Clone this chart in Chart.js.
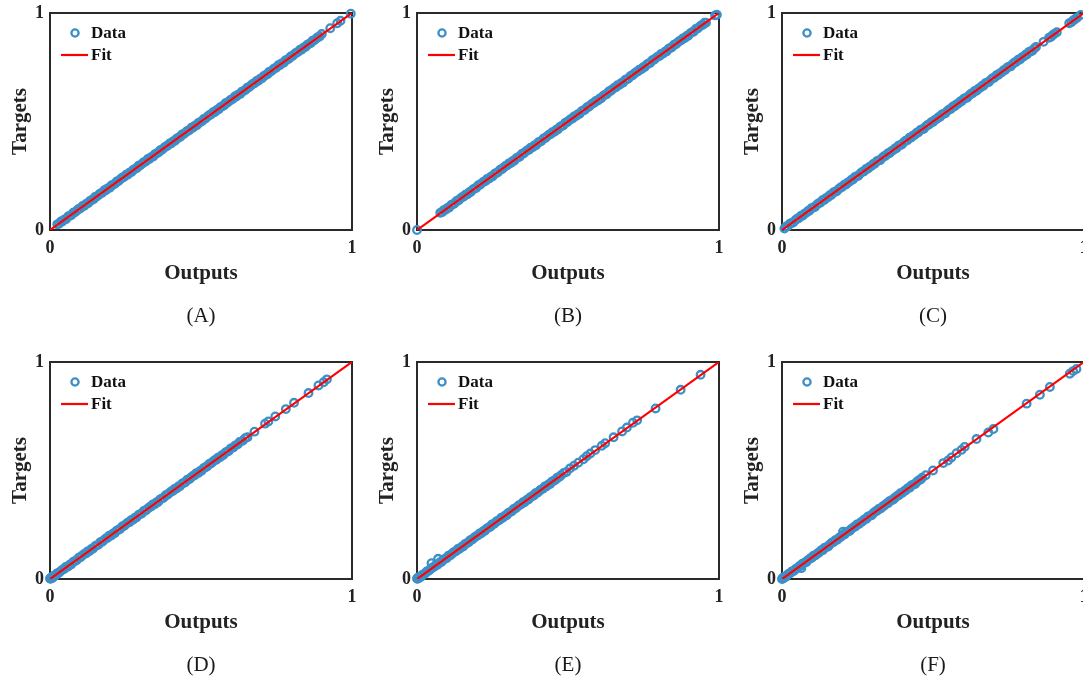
<!DOCTYPE html>
<html>
<head>
<meta charset="utf-8">
<title>Outputs vs Targets</title>
<script src="https://cdn.jsdelivr.net/npm/chart.js@4.4.0/dist/chart.umd.min.js"></script>
<style>
  html, body { margin: 0; padding: 0; background: #ffffff; width: 1083px; height: 680px; overflow: hidden; }
  .panel { position: absolute; width: 360px; height: 340px; }
  .panel canvas { display: block; }
</style>
</head>
<body>
<div class="panel" style="left:0px;top:0px"><canvas id="pA" width="360" height="340"></canvas></div>
<div class="panel" style="left:367px;top:0px"><canvas id="pB" width="360" height="340"></canvas></div>
<div class="panel" style="left:732px;top:0px"><canvas id="pC" width="360" height="340"></canvas></div>
<div class="panel" style="left:0px;top:349px"><canvas id="pD" width="360" height="340"></canvas></div>
<div class="panel" style="left:367px;top:349px"><canvas id="pE" width="360" height="340"></canvas></div>
<div class="panel" style="left:732px;top:349px"><canvas id="pF" width="360" height="340"></canvas></div>

<script>
// Axis ticks shared by every panel
const axisTicks = [0, 1];

// Fitted line (Outputs -> Targets)
const fitOutputs = [0, 1];
const fitTargets = [0, 1];

// Panel (A)
const outputsA = [0.024,0.030,0.036,0.041,0.047,0.053,0.060,0.066,0.071,0.077,
  0.083,0.090,0.095,0.101,0.108,0.113,0.119,0.126,0.131,0.137,
  0.144,0.149,0.155,0.162,0.167,0.173,0.180,0.185,0.191,0.198,
  0.203,0.209,0.216,0.221,0.227,0.234,0.239,0.245,0.252,0.257,
  0.263,0.270,0.275,0.281,0.288,0.293,0.299,0.306,0.311,0.317,
  0.324,0.329,0.335,0.342,0.347,0.353,0.360,0.365,0.371,0.378,
  0.383,0.389,0.396,0.401,0.407,0.414,0.419,0.425,0.432,0.437,
  0.443,0.450,0.455,0.461,0.468,0.473,0.479,0.486,0.491,0.497,
  0.504,0.509,0.515,0.522,0.527,0.533,0.540,0.545,0.551,0.558,
  0.563,0.569,0.576,0.581,0.587,0.594,0.599,0.605,0.612,0.617,
  0.623,0.630,0.635,0.641,0.648,0.653,0.659,0.666,0.671,0.677,
  0.684,0.689,0.695,0.702,0.707,0.713,0.720,0.725,0.731,0.738,
  0.743,0.749,0.756,0.761,0.767,0.774,0.779,0.785,0.792,0.797,
  0.803,0.810,0.815,0.821,0.828,0.833,0.839,0.846,0.851,0.857,
  0.864,0.869,0.875,0.882,0.887,0.893,0.900,0.928,0.951,0.962,
  0.996];
const targetsA = [0.026,0.029,0.039,0.039,0.048,0.050,0.062,0.066,0.069,0.080,
  0.082,0.091,0.097,0.100,0.111,0.111,0.120,0.123,0.133,0.137,
  0.142,0.152,0.154,0.163,0.169,0.172,0.183,0.183,0.192,0.195,
  0.205,0.209,0.214,0.224,0.226,0.235,0.241,0.244,0.255,0.255,
  0.264,0.267,0.277,0.281,0.286,0.296,0.298,0.307,0.313,0.316,
  0.327,0.327,0.336,0.339,0.349,0.353,0.358,0.368,0.370,0.379,
  0.385,0.388,0.399,0.399,0.408,0.411,0.421,0.425,0.430,0.440,
  0.442,0.451,0.457,0.460,0.471,0.471,0.480,0.483,0.493,0.497,
  0.502,0.512,0.514,0.523,0.529,0.532,0.543,0.543,0.552,0.555,
  0.565,0.569,0.574,0.584,0.586,0.595,0.601,0.604,0.615,0.615,
  0.624,0.627,0.637,0.641,0.646,0.656,0.658,0.667,0.673,0.676,
  0.687,0.687,0.696,0.699,0.709,0.713,0.718,0.728,0.730,0.739,
  0.745,0.748,0.759,0.759,0.768,0.771,0.781,0.785,0.790,0.800,
  0.802,0.811,0.817,0.820,0.831,0.831,0.840,0.843,0.853,0.857,
  0.862,0.872,0.874,0.883,0.889,0.892,0.903,0.930,0.953,0.964,
  0.997];

// Panel (B)
const outputsB = [0.000,0.077,0.083,0.088,0.095,0.101,0.106,0.113,0.119,0.124,
  0.131,0.137,0.142,0.149,0.155,0.160,0.167,0.173,0.178,0.185,
  0.191,0.196,0.203,0.209,0.214,0.221,0.227,0.232,0.239,0.245,
  0.250,0.257,0.263,0.268,0.275,0.281,0.286,0.293,0.299,0.304,
  0.311,0.317,0.322,0.329,0.335,0.340,0.347,0.353,0.358,0.365,
  0.371,0.376,0.383,0.389,0.394,0.401,0.407,0.412,0.419,0.425,
  0.430,0.437,0.443,0.448,0.455,0.461,0.466,0.473,0.479,0.484,
  0.491,0.497,0.502,0.509,0.515,0.520,0.527,0.533,0.538,0.545,
  0.551,0.556,0.563,0.569,0.574,0.581,0.587,0.592,0.599,0.605,
  0.610,0.617,0.623,0.628,0.635,0.641,0.646,0.653,0.659,0.664,
  0.671,0.677,0.682,0.689,0.695,0.700,0.707,0.713,0.718,0.725,
  0.731,0.736,0.743,0.749,0.754,0.761,0.767,0.772,0.779,0.785,
  0.790,0.797,0.803,0.808,0.815,0.821,0.826,0.833,0.839,0.844,
  0.851,0.857,0.862,0.869,0.875,0.880,0.887,0.893,0.898,0.905,
  0.911,0.916,0.923,0.929,0.934,0.941,0.947,0.952,0.957,0.987,
  0.993];
const targetsB = [0.000,0.079,0.082,0.091,0.093,0.102,0.103,0.115,0.119,0.122,
  0.134,0.136,0.143,0.151,0.154,0.163,0.165,0.174,0.175,0.187,
  0.191,0.194,0.206,0.208,0.215,0.223,0.226,0.235,0.237,0.246,
  0.247,0.259,0.263,0.266,0.278,0.280,0.287,0.295,0.298,0.307,
  0.309,0.318,0.319,0.331,0.335,0.338,0.350,0.352,0.359,0.367,
  0.370,0.379,0.381,0.390,0.391,0.403,0.407,0.410,0.422,0.424,
  0.431,0.439,0.442,0.451,0.453,0.462,0.463,0.475,0.479,0.482,
  0.494,0.496,0.503,0.511,0.514,0.523,0.525,0.534,0.535,0.547,
  0.551,0.554,0.566,0.568,0.575,0.583,0.586,0.595,0.597,0.606,
  0.607,0.619,0.623,0.626,0.638,0.640,0.647,0.655,0.658,0.667,
  0.669,0.678,0.679,0.691,0.695,0.698,0.710,0.712,0.719,0.727,
  0.730,0.739,0.741,0.750,0.751,0.763,0.767,0.770,0.782,0.784,
  0.791,0.799,0.802,0.811,0.813,0.822,0.823,0.835,0.839,0.842,
  0.854,0.856,0.863,0.871,0.874,0.883,0.885,0.894,0.895,0.907,
  0.911,0.914,0.926,0.928,0.935,0.943,0.946,0.955,0.955,0.989,
  0.992];

// Panel (C)
const outputsC = [0.008,0.014,0.019,0.026,0.032,0.037,0.044,0.050,0.055,0.062,
  0.068,0.073,0.080,0.086,0.091,0.098,0.104,0.109,0.116,0.122,
  0.127,0.134,0.140,0.145,0.152,0.158,0.163,0.170,0.176,0.181,
  0.188,0.194,0.199,0.206,0.212,0.217,0.224,0.230,0.235,0.242,
  0.248,0.253,0.260,0.266,0.271,0.278,0.284,0.289,0.296,0.302,
  0.307,0.314,0.320,0.325,0.332,0.338,0.343,0.350,0.356,0.361,
  0.368,0.374,0.379,0.386,0.392,0.397,0.404,0.410,0.415,0.422,
  0.428,0.433,0.440,0.446,0.451,0.458,0.464,0.469,0.476,0.482,
  0.487,0.494,0.500,0.505,0.512,0.518,0.523,0.530,0.536,0.541,
  0.548,0.554,0.559,0.566,0.572,0.577,0.584,0.590,0.595,0.602,
  0.608,0.613,0.620,0.626,0.631,0.638,0.644,0.649,0.656,0.662,
  0.667,0.674,0.680,0.685,0.692,0.698,0.703,0.710,0.716,0.721,
  0.728,0.734,0.739,0.746,0.752,0.757,0.764,0.770,0.775,0.782,
  0.788,0.793,0.800,0.806,0.811,0.818,0.824,0.829,0.836,0.841,
  0.866,0.884,0.890,0.896,0.902,0.910,0.951,0.958,0.964,0.970,
  0.977,0.989];
const targetsC = [0.007,0.016,0.017,0.029,0.032,0.034,0.045,0.052,0.054,0.065,
  0.066,0.074,0.079,0.088,0.089,0.101,0.104,0.106,0.117,0.124,
  0.126,0.137,0.138,0.146,0.151,0.160,0.161,0.173,0.176,0.178,
  0.189,0.196,0.198,0.209,0.210,0.218,0.223,0.232,0.233,0.245,
  0.248,0.250,0.261,0.268,0.270,0.281,0.282,0.290,0.295,0.304,
  0.305,0.317,0.320,0.322,0.333,0.340,0.342,0.353,0.354,0.362,
  0.367,0.376,0.377,0.389,0.392,0.394,0.405,0.412,0.414,0.425,
  0.426,0.434,0.439,0.448,0.449,0.461,0.464,0.466,0.477,0.484,
  0.486,0.497,0.498,0.506,0.511,0.520,0.521,0.533,0.536,0.538,
  0.549,0.556,0.558,0.569,0.570,0.578,0.583,0.592,0.593,0.605,
  0.608,0.610,0.621,0.628,0.630,0.641,0.642,0.650,0.655,0.664,
  0.665,0.677,0.680,0.682,0.693,0.700,0.702,0.713,0.714,0.722,
  0.727,0.736,0.737,0.749,0.752,0.754,0.765,0.772,0.774,0.785,
  0.786,0.794,0.799,0.808,0.809,0.821,0.824,0.826,0.837,0.843,
  0.867,0.886,0.889,0.898,0.904,0.911,0.953,0.957,0.966,0.971,
  0.978,0.991];

// Panel (D)
const outputsD = [0.000,0.002,0.004,0.006,0.008,0.010,0.013,0.016,0.019,0.023,
  0.029,0.034,0.041,0.047,0.052,0.059,0.065,0.070,0.077,0.083,
  0.088,0.095,0.101,0.106,0.113,0.119,0.124,0.131,0.137,0.142,
  0.149,0.155,0.160,0.167,0.173,0.178,0.185,0.191,0.196,0.203,
  0.209,0.214,0.221,0.227,0.232,0.239,0.245,0.250,0.257,0.263,
  0.268,0.275,0.281,0.286,0.293,0.299,0.304,0.311,0.317,0.322,
  0.329,0.335,0.340,0.347,0.353,0.358,0.365,0.371,0.376,0.383,
  0.389,0.394,0.401,0.407,0.412,0.419,0.425,0.430,0.437,0.443,
  0.448,0.455,0.461,0.466,0.473,0.479,0.484,0.491,0.497,0.502,
  0.509,0.515,0.520,0.527,0.533,0.538,0.545,0.551,0.556,0.563,
  0.569,0.574,0.581,0.587,0.592,0.599,0.607,0.614,0.622,0.628,
  0.638,0.646,0.654,0.677,0.712,0.723,0.746,0.781,0.808,0.856,
  0.889,0.906,0.917];
const targetsD = [0.002,0.001,0.007,0.004,0.009,0.007,0.015,0.016,0.017,0.026,
  0.028,0.035,0.043,0.046,0.055,0.057,0.066,0.067,0.079,0.083,
  0.086,0.098,0.100,0.107,0.115,0.118,0.127,0.129,0.138,0.139,
  0.151,0.155,0.158,0.170,0.172,0.179,0.187,0.190,0.199,0.201,
  0.210,0.211,0.223,0.227,0.230,0.242,0.244,0.251,0.259,0.262,
  0.271,0.273,0.282,0.283,0.295,0.299,0.302,0.314,0.316,0.323,
  0.331,0.334,0.343,0.345,0.354,0.355,0.367,0.371,0.374,0.386,
  0.388,0.395,0.403,0.406,0.415,0.417,0.426,0.427,0.439,0.443,
  0.446,0.458,0.460,0.467,0.475,0.478,0.487,0.489,0.498,0.499,
  0.511,0.515,0.518,0.530,0.532,0.539,0.547,0.550,0.559,0.561,
  0.570,0.571,0.583,0.587,0.590,0.602,0.606,0.616,0.621,0.631,
  0.637,0.649,0.653,0.679,0.716,0.726,0.749,0.783,0.812,0.857,
  0.892,0.907,0.920];

// Panel (E)
const outputsE = [0.000,0.002,0.004,0.007,0.010,0.013,0.017,0.021,0.027,0.032,
  0.039,0.045,0.048,0.050,0.057,0.063,0.068,0.070,0.075,0.081,
  0.086,0.093,0.099,0.104,0.111,0.117,0.122,0.129,0.135,0.140,
  0.147,0.153,0.158,0.165,0.171,0.176,0.183,0.189,0.194,0.201,
  0.207,0.212,0.219,0.225,0.230,0.237,0.243,0.248,0.255,0.261,
  0.266,0.273,0.279,0.284,0.291,0.297,0.302,0.309,0.315,0.320,
  0.327,0.333,0.338,0.345,0.351,0.356,0.363,0.369,0.374,0.381,
  0.387,0.392,0.399,0.405,0.410,0.417,0.423,0.428,0.435,0.441,
  0.446,0.453,0.459,0.464,0.471,0.477,0.486,0.495,0.507,0.520,
  0.534,0.551,0.562,0.574,0.590,0.612,0.623,0.651,0.679,0.695,
  0.715,0.729,0.790,0.873,0.939];
const targetsE = [0.002,0.001,0.007,0.005,0.011,0.010,0.019,0.021,0.025,0.035,
  0.038,0.046,0.073,0.052,0.056,0.066,0.066,0.093,0.076,0.078,
  0.088,0.093,0.097,0.107,0.110,0.118,0.124,0.128,0.138,0.138,
  0.148,0.150,0.160,0.165,0.169,0.179,0.182,0.190,0.196,0.200,
  0.210,0.210,0.220,0.222,0.232,0.237,0.241,0.251,0.254,0.262,
  0.268,0.272,0.282,0.282,0.292,0.294,0.304,0.309,0.313,0.323,
  0.326,0.334,0.340,0.344,0.354,0.354,0.364,0.366,0.376,0.381,
  0.385,0.395,0.398,0.406,0.412,0.416,0.426,0.426,0.436,0.438,
  0.448,0.453,0.457,0.467,0.470,0.478,0.489,0.493,0.510,0.522,
  0.536,0.552,0.566,0.578,0.594,0.614,0.626,0.653,0.680,0.698,
  0.720,0.731,0.786,0.872,0.941];

// Panel (F)
const outputsF = [0.000,0.002,0.004,0.007,0.010,0.013,0.017,0.021,0.027,0.032,
  0.039,0.045,0.050,0.057,0.064,0.063,0.068,0.075,0.081,0.086,
  0.093,0.099,0.104,0.111,0.117,0.122,0.129,0.135,0.140,0.147,
  0.153,0.158,0.165,0.171,0.176,0.183,0.189,0.194,0.201,0.202,
  0.207,0.212,0.219,0.225,0.230,0.237,0.243,0.248,0.255,0.261,
  0.266,0.273,0.279,0.284,0.291,0.297,0.302,0.309,0.315,0.320,
  0.327,0.333,0.338,0.345,0.351,0.356,0.363,0.369,0.374,0.381,
  0.387,0.392,0.399,0.405,0.410,0.417,0.423,0.428,0.435,0.441,
  0.446,0.453,0.459,0.464,0.476,0.500,0.534,0.550,0.561,0.578,
  0.594,0.605,0.644,0.683,0.700,0.810,0.854,0.887,0.953,0.964,
  0.975];
const targetsF = [0.000,0.004,0.002,0.010,0.010,0.010,0.018,0.023,0.026,0.035,
  0.037,0.046,0.049,0.059,0.050,0.061,0.071,0.075,0.078,0.087,
  0.095,0.098,0.107,0.109,0.118,0.121,0.131,0.133,0.143,0.147,
  0.150,0.159,0.167,0.170,0.179,0.181,0.190,0.193,0.203,0.218,
  0.205,0.215,0.219,0.222,0.231,0.239,0.242,0.251,0.253,0.262,
  0.265,0.275,0.277,0.287,0.291,0.294,0.303,0.311,0.314,0.323,
  0.325,0.334,0.337,0.347,0.349,0.359,0.363,0.366,0.375,0.383,
  0.386,0.395,0.397,0.406,0.409,0.419,0.421,0.431,0.435,0.438,
  0.447,0.455,0.458,0.467,0.478,0.500,0.534,0.546,0.560,0.580,
  0.595,0.609,0.645,0.675,0.691,0.808,0.849,0.885,0.946,0.958,
  0.968];

const panelCaptions = ['(A)', '(B)', '(C)', '(D)', '(E)', '(F)'];
const panelIds = ['pA', 'pB', 'pC', 'pD', 'pE', 'pF'];
const panelOutputs = [outputsA, outputsB, outputsC, outputsD, outputsE, outputsF];
const panelTargets = [targetsA, targetsB, targetsC, targetsD, targetsE, targetsF];

const SERIF = '"Liberation Serif", "Times New Roman", Times, serif';
const INK = '#222222';
const DATA_BLUE = '#3d8fc8';
const FIT_RED = '#ff0000';

// Box frame, in-plot legend and caption under each panel
const panelDecor = {
  id: 'panelDecor',
  beforeDatasetsDraw(chart) {
    const {ctx, chartArea: a} = chart;
    ctx.save();
    ctx.strokeStyle = '#2a2a2a';
    ctx.lineWidth = 2;
    ctx.strokeRect(a.left, a.top, a.right - a.left, a.bottom - a.top);
    ctx.restore();
  },
  afterDraw(chart, args, opts) {
    const {ctx, chartArea: a} = chart;
    ctx.save();
    // legend
    ctx.strokeStyle = DATA_BLUE;
    ctx.lineWidth = 2.3;
    ctx.beginPath();
    ctx.arc(a.left + 25, a.top + 20, 3.6, 0, Math.PI * 2);
    ctx.stroke();
    ctx.strokeStyle = FIT_RED;
    ctx.lineWidth = 2.2;
    ctx.beginPath();
    ctx.moveTo(a.left + 11, a.top + 42);
    ctx.lineTo(a.left + 38, a.top + 42);
    ctx.stroke();
    ctx.fillStyle = '#111111';
    ctx.font = 'bold 17px ' + SERIF;
    ctx.textAlign = 'left';
    ctx.textBaseline = 'middle';
    ctx.fillText('Data', a.left + 41, a.top + 21);
    ctx.fillText('Fit', a.left + 41, a.top + 43);
    // caption
    ctx.font = '21px ' + SERIF;
    ctx.textAlign = 'center';
    ctx.fillStyle = '#1a1a1a';
    ctx.fillText(opts.text, (a.left + a.right) / 2, a.bottom + 86);
    ctx.restore();
  }
};

function makePanel(i) {
  const outputs = panelOutputs[i];
  const targets = panelTargets[i];
  const points = outputs.map((x, k) => ({x: x, y: targets[k]}));
  const fit = fitOutputs.map((x, k) => ({x: x, y: fitTargets[k]}));
  const tickFont = {family: SERIF, size: 18, weight: 'bold'};
  const titleFont = {family: SERIF, size: 21, weight: 'bold'};
  return new Chart(document.getElementById(panelIds[i]), {
    type: 'scatter',
    data: {
      datasets: [
        {
          type: 'line',
          label: 'Fit',
          data: fit,
          borderColor: FIT_RED,
          borderWidth: 2.2,
          pointRadius: 0,
          pointHoverRadius: 0,
          showLine: true,
          fill: false,
          order: 0
        },
        {
          type: 'scatter',
          label: 'Data',
          data: points,
          pointStyle: 'circle',
          pointRadius: 3.8,
          pointHoverRadius: 3.8,
          pointBorderWidth: 2.3,
          pointBorderColor: DATA_BLUE,
          pointBackgroundColor: 'rgba(0,0,0,0)',
          borderColor: DATA_BLUE,
          backgroundColor: 'rgba(0,0,0,0)',
          clip: false,
          order: 1
        }
      ]
    },
    options: {
      responsive: false,
      animation: false,
      events: [],
      layout: {autoPadding: false, padding: {left: 0, top: 13, right: 8, bottom: 52}},
      plugins: {
        legend: {display: false},
        tooltip: {enabled: false},
        panelDecor: {text: panelCaptions[i]}
      },
      scales: {
        x: {
          type: 'linear',
          min: axisTicks[0],
          max: axisTicks[axisTicks.length - 1],
          grid: {display: false, drawTicks: true, tickLength: 6},
          border: {display: false},
          afterBuildTicks: s => { s.ticks = axisTicks.map(v => ({value: v})); },
          ticks: {font: tickFont, color: INK, padding: 2, maxRotation: 0},
          title: {display: true, text: 'Outputs', font: titleFont, color: INK, padding: {top: 0, bottom: 2}},
          afterFit: s => { s.height = 58; }
        },
        y: {
          type: 'linear',
          min: axisTicks[0],
          max: axisTicks[axisTicks.length - 1],
          grid: {display: false, drawTicks: true, tickLength: 4},
          border: {display: false},
          afterBuildTicks: s => { s.ticks = axisTicks.map(v => ({value: v})); },
          ticks: {font: tickFont, color: INK, padding: 2},
          title: {display: true, text: 'Targets', font: titleFont, color: INK, padding: {top: 8, bottom: 0}},
          afterFit: s => { s.width = 50; }
        }
      }
    },
    plugins: [panelDecor]
  });
}

for (let i = 0; i < panelIds.length; i++) makePanel(i);
</script>
</body>
</html>
